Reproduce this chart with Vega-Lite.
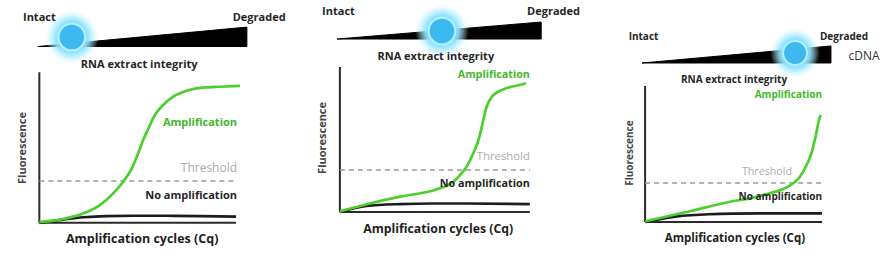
{
  "$schema": "https://vega.github.io/schema/vega-lite/v6.json",
  "background": "white",
  "padding": 0,
  "spacing": 0,
  "config": {"view": {"stroke": null}, "concat": {"spacing": 0}, "font": "Open Sans"},
  "resolve": {"scale": {"x": "independent", "y": "independent", "color": "independent"}},
  "hconcat": [
    {
      "width": 300, "height": 265,
      "encoding": {
        "x": {"field": "x", "type": "quantitative", "scale": {"domain": [-8, 53], "nice": false, "zero": false}, "axis": null},
        "y": {"field": "y", "type": "quantitative", "scale": {"domain": [-28, 148], "nice": false, "zero": false}, "axis": null}
      },
      "layer": [
        {"data": {"values": [{"x": -0.3, "y": 117.1, "y2": 117.1}, {"x": 42.2, "y": 130.0, "y2": 117.1}]},
         "mark": {"type": "area", "orient": "vertical", "color": "#000000", "stroke": "#000000", "strokeWidth": 1},
         "encoding": {"y2": {"field": "y2"}}},
        {"data": {"values": [{"x": 6.6, "y": 123.4}]},
         "mark": {"type": "circle", "size": 2900, "opacity": 1,
                  "fill": {"gradient": "radial", "stops": [{"offset": 0, "color": "rgba(110,215,255,1)"}, {"offset": 0.6, "color": "rgba(140,228,255,0.95)"}, {"offset": 0.8, "color": "rgba(170,236,255,0.5)"}, {"offset": 1, "color": "rgba(210,245,255,0)"}]}}},
        {"data": {"values": [{"x": 6.6, "y": 123.4}]},
         "mark": {"type": "circle", "size": 707, "opacity": 1, "fill": "#3cb9ef", "stroke": "#b5eeff", "strokeWidth": 2}},
        {"data": {"values": [{"x": 0, "y": 0, "x2": 40, "y2": 0}, {"x": 0, "y": 0, "x2": 0, "y2": 100}]},
         "mark": {"type": "rule", "color": "#2a2a2a", "strokeWidth": 2},
         "encoding": {"x2": {"field": "x2"}, "y2": {"field": "y2"}}},
        {"data": {"values": [{"x": 0, "x2": 40, "y": 27.8}]},
         "mark": {"type": "rule", "color": "#9b9b9b", "strokeWidth": 1.5, "strokeDash": [5, 4]},
         "encoding": {"x2": {"field": "x2"}}},
        {"data": {"values": [
          {"series": "No amplification", "x": 0, "y": 0}, {"series": "No amplification", "x": 4.2, "y": 1.9}, {"series": "No amplification", "x": 9, "y": 3.7}, {"series": "No amplification", "x": 13.7, "y": 4.5}, {"series": "No amplification", "x": 19.1, "y": 4.7}, {"series": "No amplification", "x": 25.9, "y": 4.7}, {"series": "No amplification", "x": 32.7, "y": 4.5}, {"series": "No amplification", "x": 40, "y": 4.1},
          {"series": "Amplification", "x": 0, "y": 0.5}, {"series": "Amplification", "x": 5.5, "y": 3}, {"series": "Amplification", "x": 9, "y": 6.3}, {"series": "Amplification", "x": 12.3, "y": 11.8}, {"series": "Amplification", "x": 15, "y": 19.6}, {"series": "Amplification", "x": 17.2, "y": 28}, {"series": "Amplification", "x": 18.8, "y": 36.2}, {"series": "Amplification", "x": 20.1, "y": 46.2}, {"series": "Amplification", "x": 21.1, "y": 55}, {"series": "Amplification", "x": 22.2, "y": 62.8}, {"series": "Amplification", "x": 23.5, "y": 71.6}, {"series": "Amplification", "x": 25.2, "y": 78.3}, {"series": "Amplification", "x": 27.2, "y": 83.8}, {"series": "Amplification", "x": 30, "y": 87.8}, {"series": "Amplification", "x": 33.3, "y": 89.8}, {"series": "Amplification", "x": 36.7, "y": 90.4}, {"series": "Amplification", "x": 40.8, "y": 90.9}
        ]},
         "mark": {"type": "line", "strokeWidth": 2.7, "interpolate": "monotone"},
         "encoding": {"color": {"field": "series", "type": "nominal", "scale": {"domain": ["No amplification", "Amplification"], "range": ["#1c1c1c", "#4ccf2e"]}, "legend": null}}},
        {"data": {"values": [{"x": 0, "y": 136, "label": "Intact"}, {"x": 44.7, "y": 136, "label": "Degraded"}, {"x": 20.3, "y": 104.8, "label": "RNA extract integrity"}]},
         "mark": {"type": "text", "font": "Open Sans", "fontSize": 11, "fontWeight": "bold", "color": "#262626", "align": "center", "baseline": "middle"},
         "encoding": {"text": {"field": "label"}}},
        {"data": {"values": [{"x": -3.3, "y": 49.7, "label": "Fluorescence"}]},
         "mark": {"type": "text", "font": "Open Sans", "fontSize": 11, "fontWeight": "bold", "color": "#444444", "align": "center", "baseline": "middle", "angle": 270},
         "encoding": {"text": {"field": "label"}}},
        {"data": {"values": [{"x": 20.9, "y": -10.7, "label": "Amplification cycles (Cq)"}]},
         "mark": {"type": "text", "font": "Open Sans", "fontSize": 12.5, "fontWeight": "bold", "color": "#1e1e1e", "align": "center", "baseline": "middle"},
         "encoding": {"text": {"field": "label"}}},
        {"data": {"values": [{"x": 40.2, "y": 66.3, "label": "Amplification"}]},
         "mark": {"type": "text", "font": "Open Sans", "fontSize": 11, "fontWeight": "bold", "color": "#3fb82a", "align": "right", "baseline": "middle"},
         "encoding": {"text": {"field": "label"}}},
        {"data": {"values": [{"x": 40.2, "y": 36.4, "label": "Threshold"}]},
         "mark": {"type": "text", "font": "Open Sans", "fontSize": 12, "color": "#ababab", "align": "right", "baseline": "middle"},
         "encoding": {"text": {"field": "label"}}},
        {"data": {"values": [{"x": 40.2, "y": 17.8, "label": "No amplification"}]},
         "mark": {"type": "text", "font": "Open Sans", "fontSize": 11, "fontWeight": "bold", "color": "#262626", "align": "right", "baseline": "middle"},
         "encoding": {"text": {"field": "label"}}}
      ]
    },
    {
      "width": 292, "height": 265,
      "encoding": {
        "x": {"field": "x", "type": "quantitative", "scale": {"domain": [-8.4, 53.1], "nice": false, "zero": false}, "axis": null},
        "y": {"field": "y", "type": "quantitative", "scale": {"domain": [-36.5, 146.2], "nice": false, "zero": false}, "axis": null}
      },
      "layer": [
        {"data": {"values": [{"x": -0.6, "y": 119.3, "y2": 119.3}, {"x": 42.4, "y": 131.0, "y2": 119.3}]},
         "mark": {"type": "area", "orient": "vertical", "color": "#000000", "stroke": "#000000", "strokeWidth": 1},
         "encoding": {"y2": {"field": "y2"}}},
        {"data": {"values": [{"x": 21.5, "y": 124.8}]},
         "mark": {"type": "circle", "size": 2900, "opacity": 1,
                  "fill": {"gradient": "radial", "stops": [{"offset": 0, "color": "rgba(110,215,255,1)"}, {"offset": 0.6, "color": "rgba(140,228,255,0.95)"}, {"offset": 0.8, "color": "rgba(170,236,255,0.5)"}, {"offset": 1, "color": "rgba(210,245,255,0)"}]}}},
        {"data": {"values": [{"x": 21.5, "y": 124.8}]},
         "mark": {"type": "circle", "size": 707, "opacity": 1, "fill": "#3cb9ef", "stroke": "#b5eeff", "strokeWidth": 2}},
        {"data": {"values": [{"x": 0, "y": 0, "x2": 40, "y2": 0}, {"x": 0, "y": 0, "x2": 0, "y2": 100}]},
         "mark": {"type": "rule", "color": "#2a2a2a", "strokeWidth": 2},
         "encoding": {"x2": {"field": "x2"}, "y2": {"field": "y2"}}},
        {"data": {"values": [{"x": 0, "x2": 40, "y": 29.0}]},
         "mark": {"type": "rule", "color": "#9b9b9b", "strokeWidth": 1.5, "strokeDash": [5, 4]},
         "encoding": {"x2": {"field": "x2"}}},
        {"data": {"values": [
          {"series": "No amplification", "x": 0, "y": 0}, {"series": "No amplification", "x": 5.6, "y": 4.2}, {"series": "No amplification", "x": 12.7, "y": 5.5}, {"series": "No amplification", "x": 19.6, "y": 5.9}, {"series": "No amplification", "x": 26.7, "y": 5.9}, {"series": "No amplification", "x": 40, "y": 5.5},
          {"series": "Amplification", "x": 0, "y": 0.5}, {"series": "Amplification", "x": 6.3, "y": 5.9}, {"series": "Amplification", "x": 12.7, "y": 10.6}, {"series": "Amplification", "x": 20.4, "y": 15.7}, {"series": "Amplification", "x": 23.9, "y": 20.9}, {"series": "Amplification", "x": 25.3, "y": 25.5}, {"series": "Amplification", "x": 26.7, "y": 31.3}, {"series": "Amplification", "x": 28.1, "y": 40.5}, {"series": "Amplification", "x": 29.4, "y": 52.0}, {"series": "Amplification", "x": 30.2, "y": 63.5}, {"series": "Amplification", "x": 30.9, "y": 72.6}, {"series": "Amplification", "x": 32.0, "y": 79.5}, {"series": "Amplification", "x": 34.4, "y": 84.6}, {"series": "Amplification", "x": 37.9, "y": 87.6}, {"series": "Amplification", "x": 39.2, "y": 88.8}
        ]},
         "mark": {"type": "line", "strokeWidth": 2.7, "interpolate": "monotone"},
         "encoding": {"color": {"field": "series", "type": "nominal", "scale": {"domain": ["No amplification", "Amplification"], "range": ["#1c1c1c", "#4ccf2e"]}, "legend": null}}},
        {"data": {"values": [{"x": -0.3, "y": 137.9, "label": "Intact"}, {"x": 45.0, "y": 137.9, "label": "Degraded"}, {"x": 20.2, "y": 106.9, "label": "RNA extract integrity"}]},
         "mark": {"type": "text", "font": "Open Sans", "fontSize": 11, "fontWeight": "bold", "color": "#262626", "align": "center", "baseline": "middle"},
         "encoding": {"text": {"field": "label"}}},
        {"data": {"values": [{"x": -3.56, "y": 51.1, "label": "Fluorescence"}]},
         "mark": {"type": "text", "font": "Open Sans", "fontSize": 11, "fontWeight": "bold", "color": "#444444", "align": "center", "baseline": "middle", "angle": 270},
         "encoding": {"text": {"field": "label"}}},
        {"data": {"values": [{"x": 20.7, "y": -11.7, "label": "Amplification cycles (Cq)"}]},
         "mark": {"type": "text", "font": "Open Sans", "fontSize": 12.3, "fontWeight": "bold", "color": "#1e1e1e", "align": "center", "baseline": "middle"},
         "encoding": {"text": {"field": "label"}}},
        {"data": {"values": [{"x": 40.0, "y": 94.5, "label": "Amplification"}]},
         "mark": {"type": "text", "font": "Open Sans", "fontSize": 10.7, "fontWeight": "bold", "color": "#3fb82a", "align": "right", "baseline": "middle"},
         "encoding": {"text": {"field": "label"}}},
        {"data": {"values": [{"x": 40.0, "y": 38.0, "label": "Threshold"}]},
         "mark": {"type": "text", "font": "Open Sans", "fontSize": 11.3, "color": "#ababab", "align": "right", "baseline": "middle"},
         "encoding": {"text": {"field": "label"}}},
        {"data": {"values": [{"x": 40.0, "y": 19.3, "label": "No amplification"}]},
         "mark": {"type": "text", "font": "Open Sans", "fontSize": 10.8, "fontWeight": "bold", "color": "#262626", "align": "right", "baseline": "middle"},
         "encoding": {"text": {"field": "label"}}}
      ]
    },
    {
      "width": 300, "height": 265,
      "encoding": {
        "x": {"field": "x", "type": "quantitative", "scale": {"domain": [-12, 55.8], "nice": false, "zero": false}, "axis": null},
        "y": {"field": "y", "type": "quantitative", "scale": {"domain": [-31.6, 163.2], "nice": false, "zero": false}, "axis": null}
      },
      "layer": [
        {"data": {"values": [{"x": -0.7, "y": 116.9, "y2": 116.9}, {"x": 42.0, "y": 129.4, "y2": 116.9}]},
         "mark": {"type": "area", "orient": "vertical", "color": "#000000", "stroke": "#000000", "strokeWidth": 1},
         "encoding": {"y2": {"field": "y2"}}},
        {"data": {"values": [{"x": 33.9, "y": 124.2}]},
         "mark": {"type": "circle", "size": 2450, "opacity": 1,
                  "fill": {"gradient": "radial", "stops": [{"offset": 0, "color": "rgba(110,215,255,1)"}, {"offset": 0.6, "color": "rgba(140,228,255,0.95)"}, {"offset": 0.8, "color": "rgba(170,236,255,0.5)"}, {"offset": 1, "color": "rgba(210,245,255,0)"}]}}},
        {"data": {"values": [{"x": 33.9, "y": 124.2}]},
         "mark": {"type": "circle", "size": 573, "opacity": 1, "fill": "#3cb9ef", "stroke": "#b5eeff", "strokeWidth": 2}},
        {"data": {"values": [{"x": 0, "y": 0, "x2": 40, "y2": 0}, {"x": 0, "y": 0, "x2": 0, "y2": 100}]},
         "mark": {"type": "rule", "color": "#2a2a2a", "strokeWidth": 2},
         "encoding": {"x2": {"field": "x2"}, "y2": {"field": "y2"}}},
        {"data": {"values": [{"x": 0, "x2": 40, "y": 28.7}]},
         "mark": {"type": "rule", "color": "#9b9b9b", "strokeWidth": 1.5, "strokeDash": [5, 4]},
         "encoding": {"x2": {"field": "x2"}}},
        {"data": {"values": [
          {"series": "No amplification", "x": 0, "y": 0}, {"series": "No amplification", "x": 6.8, "y": 3.9}, {"series": "No amplification", "x": 14.4, "y": 5.7}, {"series": "No amplification", "x": 26, "y": 6.3}, {"series": "No amplification", "x": 40, "y": 6.4},
          {"series": "Amplification", "x": 0, "y": 0.5}, {"series": "Amplification", "x": 10.6, "y": 8.3}, {"series": "Amplification", "x": 19.2, "y": 14.9}, {"series": "Amplification", "x": 23.7, "y": 17.4}, {"series": "Amplification", "x": 28.2, "y": 21.1}, {"series": "Amplification", "x": 31.2, "y": 24.3}, {"series": "Amplification", "x": 33.5, "y": 28.5}, {"series": "Amplification", "x": 35.0, "y": 33.3}, {"series": "Amplification", "x": 36.5, "y": 41.9}, {"series": "Amplification", "x": 37.7, "y": 51.7}, {"series": "Amplification", "x": 38.6, "y": 64.0}, {"series": "Amplification", "x": 39.4, "y": 76.2}, {"series": "Amplification", "x": 39.7, "y": 78.7}
        ]},
         "mark": {"type": "line", "strokeWidth": 2.7, "interpolate": "monotone"},
         "encoding": {"color": {"field": "series", "type": "nominal", "scale": {"domain": ["No amplification", "Amplification"], "range": ["#1c1c1c", "#4ccf2e"]}, "legend": null}}},
        {"data": {"values": [{"x": -0.36, "y": 136.0, "label": "Intact"}, {"x": 44.95, "y": 136.0, "label": "Degraded"}, {"x": 20.1, "y": 104.4, "label": "RNA extract integrity"}]},
         "mark": {"type": "text", "font": "Open Sans", "fontSize": 10, "fontWeight": "bold", "color": "#262626", "align": "center", "baseline": "middle"},
         "encoding": {"text": {"field": "label"}}},
        {"data": {"values": [{"x": 49.5, "y": 122.0, "label": "cDNA"}]},
         "mark": {"type": "text", "font": "Open Sans", "fontSize": 12, "color": "#333333", "align": "center", "baseline": "middle"},
         "encoding": {"text": {"field": "label"}}},
        {"data": {"values": [{"x": -3.4, "y": 50.7, "label": "Fluorescence"}]},
         "mark": {"type": "text", "font": "Open Sans", "fontSize": 10, "fontWeight": "bold", "color": "#444444", "align": "center", "baseline": "middle", "angle": 270},
         "encoding": {"text": {"field": "label"}}},
        {"data": {"values": [{"x": 20.3, "y": -12.5, "label": "Amplification cycles (Cq)"}]},
         "mark": {"type": "text", "font": "Open Sans", "fontSize": 11.5, "fontWeight": "bold", "color": "#1e1e1e", "align": "center", "baseline": "middle"},
         "encoding": {"text": {"field": "label"}}},
        {"data": {"values": [{"x": 40.0, "y": 93.4, "label": "Amplification"}]},
         "mark": {"type": "text", "font": "Open Sans", "fontSize": 10, "fontWeight": "bold", "color": "#3fb82a", "align": "right", "baseline": "middle"},
         "encoding": {"text": {"field": "label"}}},
        {"data": {"values": [{"x": 33.2, "y": 36.8, "label": "Threshold"}]},
         "mark": {"type": "text", "font": "Open Sans", "fontSize": 10.7, "color": "#ababab", "align": "right", "baseline": "middle"},
         "encoding": {"text": {"field": "label"}}},
        {"data": {"values": [{"x": 40.0, "y": 18.4, "label": "No amplification"}]},
         "mark": {"type": "text", "font": "Open Sans", "fontSize": 10, "fontWeight": "bold", "color": "#262626", "align": "right", "baseline": "middle"},
         "encoding": {"text": {"field": "label"}}}
      ]
    }
  ]
}
